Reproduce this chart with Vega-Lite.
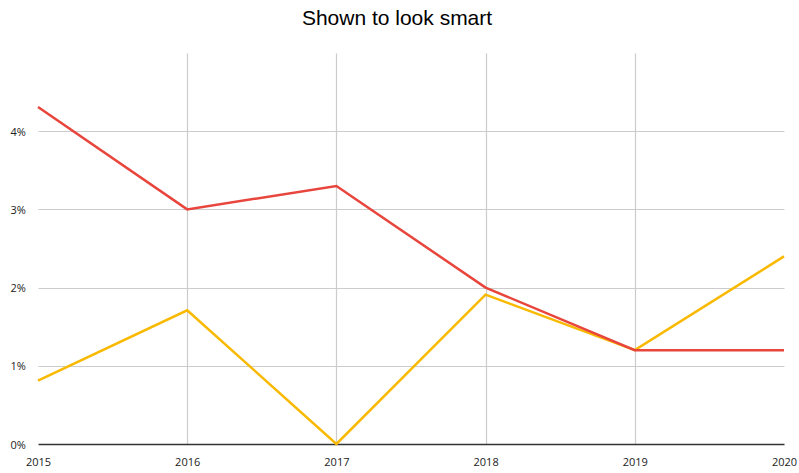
{
  "$schema": "https://vega.github.io/schema/vega-lite/v6.json",
  "autosize": "none",
  "width": 746,
  "height": 391,
  "padding": {"left": 38, "top": 53, "right": 15, "bottom": 29},
  "background": "white",
  "title": {
    "text": "Shown to look smart",
    "font": "Liberation Sans",
    "fontSize": 21,
    "fontWeight": "normal",
    "color": "#000000",
    "anchor": "middle",
    "dx": -14,
    "offset": 24
  },
  "config": {
    "view": {"stroke": null},
    "axis": {"labelFont": "Open Sans", "labelFontSize": 11, "labelColor": "#222222", "domain": false, "ticks": false, "titleFontSize": 0}
  },
  "data": {
    "values": [
      {"year": 2015, "series": "red", "value": 4.31},
      {"year": 2016, "series": "red", "value": 3.0},
      {"year": 2017, "series": "red", "value": 3.3},
      {"year": 2018, "series": "red", "value": 2.0},
      {"year": 2019, "series": "red", "value": 1.2},
      {"year": 2020, "series": "red", "value": 1.2},
      {"year": 2015, "series": "yellow", "value": 0.81},
      {"year": 2016, "series": "yellow", "value": 1.71},
      {"year": 2017, "series": "yellow", "value": 0.0},
      {"year": 2018, "series": "yellow", "value": 1.91},
      {"year": 2019, "series": "yellow", "value": 1.2},
      {"year": 2020, "series": "yellow", "value": 2.4}
    ]
  },
  "encoding": {
    "x": {
      "field": "year", "type": "quantitative",
      "scale": {"domain": [2015, 2020], "nice": false, "zero": false},
      "axis": {
        "title": null, "values": [2015, 2016, 2017, 2018, 2019, 2020], "format": "d",
        "labelFlush": false, "labelPadding": 12,
        "grid": true,
        "gridColor": {"condition": {"test": "datum.value == 2015 || datum.value == 2020", "value": "transparent"}, "value": "#cccccc"},
        "gridWidth": 1.2
      }
    },
    "y": {
      "field": "value", "type": "quantitative",
      "scale": {"domain": [0, 5], "nice": false},
      "axis": {
        "title": null, "values": [0, 1, 2, 3, 4],
        "labelExpr": "datum.value + '%'",
        "labelAlign": "left", "labelPadding": 28, "labelBaseline": "middle", "labelOffset": 1,
        "grid": true,
        "gridColor": {"condition": {"test": "datum.value == 0", "value": "#333333"}, "value": "#cccccc"},
        "gridWidth": {"condition": {"test": "datum.value == 0", "value": 1.5}, "value": 1.2}
      }
    }
  },
  "layer": [
    {
      "transform": [{"filter": "datum.series == 'yellow'"}],
      "mark": {"type": "line", "color": "#f8b900", "strokeWidth": 2.5}
    },
    {
      "transform": [{"filter": "datum.series == 'red'"}],
      "mark": {"type": "line", "color": "#e8453c", "strokeWidth": 2.5}
    }
  ]
}
